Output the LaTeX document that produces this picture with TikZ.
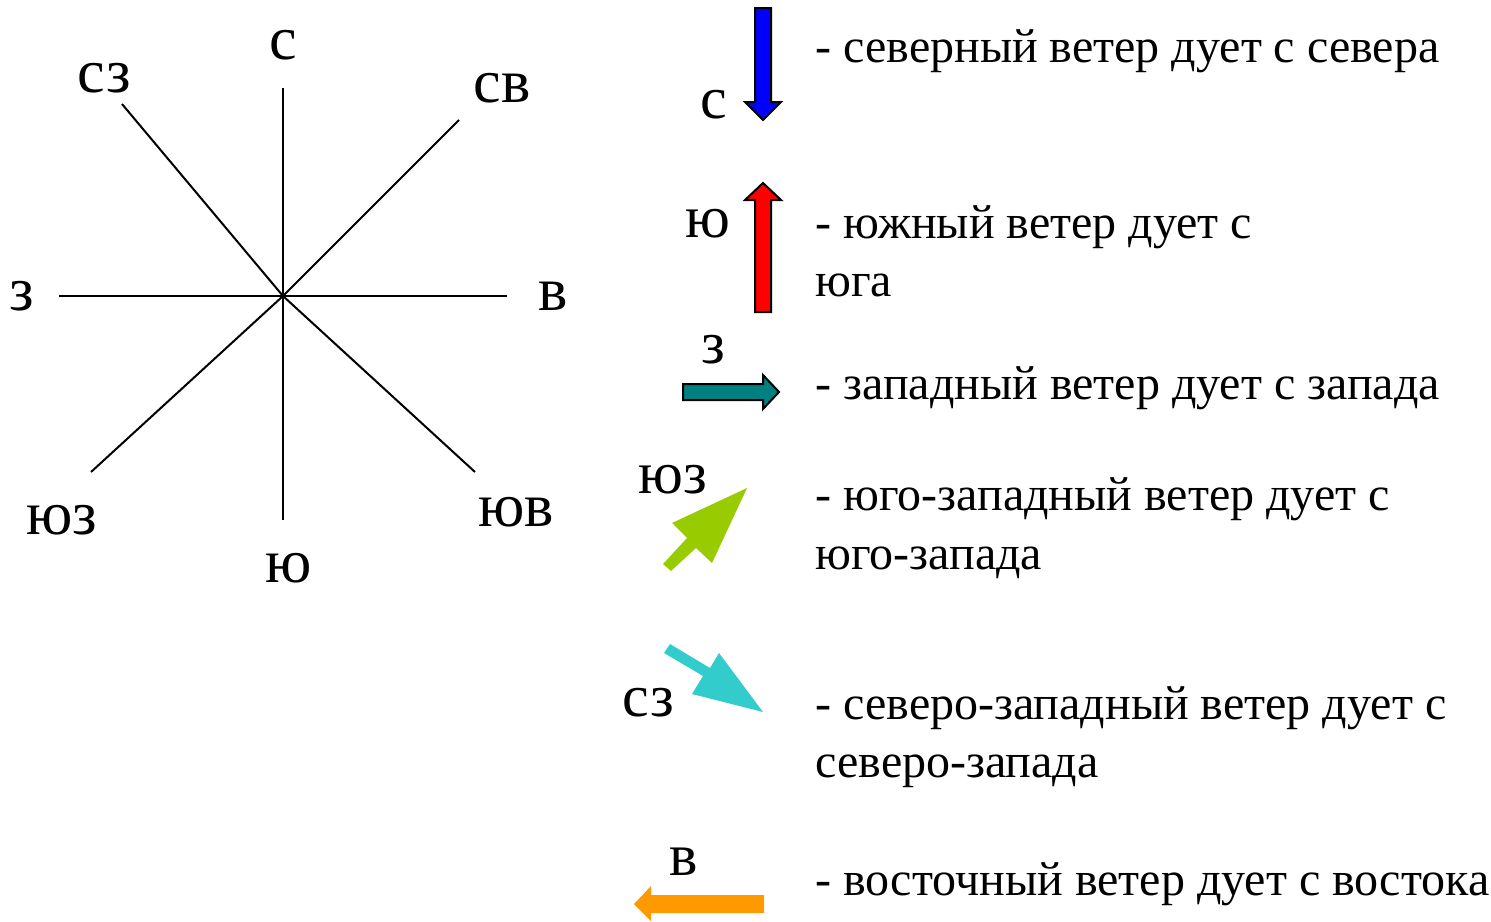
\documentclass[tikz,border=0pt]{standalone}
\usepackage{fontspec}
\setmainfont{Liberation Serif}
\definecolor{windteal}{RGB}{0,128,128}
\definecolor{windgreen}{RGB}{153,204,0}
\definecolor{windcyan}{RGB}{51,204,204}
\definecolor{windorange}{RGB}{255,153,0}

\begin{document}
\begin{tikzpicture}[x=0.5pt,y=-0.5pt,
        ray/.style={line width=1pt},
        lbl/.style={font=\fontsize{31}{31}\selectfont, inner sep=0pt},
        arlbl/.style={font=\fontsize{30}{30}\selectfont, inner sep=0pt},
        txt/.style={font=\fontsize{24}{29}\selectfont, anchor=base west, inner sep=0pt},
        outl/.style={draw=black, line width=1pt, line join=miter}]
        \useasboundingbox (0,0) rectangle (1491,921);
        % compass rose
        \coordinate (o) at (283,296);
        \coordinate (n) at (283,88);
        \coordinate (s) at (283,520);
        \coordinate (w) at (59,296);
        \coordinate (e) at (507,296);
        \coordinate (ne) at (459,120);
        \coordinate (nw) at (122,104);
        \coordinate (sw) at (91,472);
        \coordinate (se) at (475,472);
        \foreach \p in {n,s,w,e,ne,nw,sw,se}
            \draw[ray] (o) -- (\p);
        \node[lbl] (ln) at (283,45) {с};
        \node[lbl] (lnw) at (104,78) {сз};
        \node[lbl] (lne) at (502,88) {св};
        \node[lbl] (lw) at (22,296) {з};
        \node[lbl] (le) at (553,296) {в};
        \node[lbl] (lsw) at (62,520) {юз};
        \node[lbl] (ls) at (289,568) {ю};
        \node[lbl] (lse) at (516,512) {юв};
        % wind arrows
        \filldraw[outl, fill=blue] (755,8) -- (771,8) -- (771,102) -- (781,102)
            -- (763,120) -- (745,102) -- (755,102) -- cycle;
        \node[arlbl] (as) at (714,105) {с};
        \filldraw[outl, fill=red] (763,183) -- (781,200) -- (771,200) -- (771,312)
            -- (755,312) -- (755,200) -- (745,200) -- cycle;
        \node[arlbl] (ay) at (708,224) {ю};
        \filldraw[outl, fill=windteal] (683,384) -- (763,384) -- (763,375) -- (779,392)
            -- (763,409) -- (763,400) -- (683,400) -- cycle;
        \node[arlbl] (az) at (713,350) {з};
        \fill[windgreen] (747,488) -- (672,523) -- (687,538) -- (663,564)
            -- (671,571) -- (696,548) -- (712,563) -- cycle;
        \node[arlbl] (ayz) at (673,480) {юз};
        \fill[windcyan] (670,644) -- (710,668) -- (719,653) -- (763,712)
            -- (692,694) -- (703,676) -- (664,653) -- cycle;
        \node[arlbl] (asz) at (648,703) {сз};
        \fill[windorange] (764,895) -- (651,895) -- (651,886) -- (634,904)
            -- (651,921) -- (651,913) -- (764,913) -- cycle;
        \node[arlbl] (av) at (684,862) {в};
        % legend text
        \node[txt] (t1) at (815,62) {- северный ветер дует с севера};
        \node[txt] (t2) at (815,238) {- южный ветер дует с};
        \node[txt] (t2b) at (815,296) {юга};
        \node[txt] (t3) at (815,399) {- западный ветер дует с запада};
        \node[txt] (t4) at (815,510) {- юго-западный ветер дует с};
        \node[txt] (t4b) at (815,569) {юго-запада};
        \node[txt] (t5) at (815,719) {- северо-западный ветер дует с};
        \node[txt] (t5b) at (815,777) {северо-запада};
        \node[txt] (t6) at (815,895) {- восточный ветер дует с востока};
\end{tikzpicture}
\end{document}
